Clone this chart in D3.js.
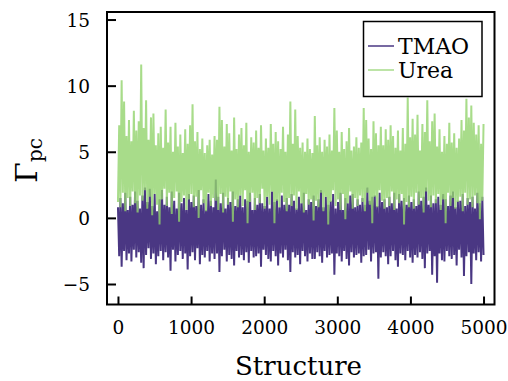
<!DOCTYPE html>
<html><head><meta charset="utf-8">
<script src="https://cdn.jsdelivr.net/npm/d3@7"></script>
<style>body{margin:0;background:#fff}svg{display:block}svg text{font-family:'DejaVu Serif',serif !important;fill:#000}</style>
</head><body><svg id="c" width="508" height="381"></svg>
<script>
const seriesNames = ["TMAO", "Urea"];
const xTicks = [0, 1000, 2000, 3000, 4000, 5000];
const yTicks = [-5, 0, 5, 10, 15];
const structureMax = 5000;
const tmao = [
0.8,-2.9,1.5,-3.7,1.1,-2.5,1.9,-3.2,0.6,-2.7,1.6,-3.3,1.0,-2.4,2.0,-3.0,1.3,-2.6,0.7,-3.4,
1.7,-3.8,2.3,-2.8,1.2,-2.3,2.2,-3.1,0.9,-2.7,1.8,-3.5,0.5,-2.9,1.4,-2.5,2.1,-3.2,1.0,-2.6,
1.6,-3.0,0.8,-4.0,2.0,-2.4,1.3,-3.3,0.7,-2.8,1.9,-2.5,1.1,-3.1,1.5,-2.7,0.6,-3.9,1.8,-2.9,
1.2,-2.6,1.7,-3.2,0.9,-2.3,2.1,-3.5,1.0,-2.8,1.4,-3.0,0.6,-2.5,1.8,-3.3,1.3,-2.7,0.8,-3.1,
2.9,-2.7,1.6,-4.1,1.1,-2.9,1.9,-2.4,0.7,-3.3,1.5,-2.8,1.2,-3.1,2.0,-3.6,0.9,-2.5,1.4,-3.0,
1.7,-2.8,0.8,-3.2,1.4,-2.6,1.3,-3.4,1.9,-2.5,0.6,-3.0,1.5,-2.9,1.0,-2.7,1.8,-3.7,1.1,-2.4,
0.9,-2.8,1.6,-3.1,0.7,-3.3,2.0,-2.5,1.2,-2.9,1.4,-3.6,0.8,-2.7,1.7,-3.0,1.0,-2.4,1.5,-3.2,
1.0,-4.1,1.8,-2.6,1.3,-3.0,0.7,-2.8,1.6,-3.5,1.1,-2.5,1.9,-2.9,0.6,-3.3,1.4,-2.7,1.2,-3.1,
1.7,-3.1,0.9,-2.6,1.4,-2.9,2.1,-3.4,0.8,-2.5,1.6,-3.0,1.0,-2.8,1.3,-2.7,1.8,-4.3,0.7,-2.7,
1.2,-2.9,1.9,-3.3,0.6,-2.5,1.5,-3.1,1.1,-3.6,1.7,-2.6,1.8,-3.0,0.8,-2.8,1.4,-2.7,1.0,-3.4,
1.5,-2.9,1.0,-2.8,2.3,-2.4,1.3,-3.3,1.6,-2.7,1.7,-2.6,0.9,-4.6,1.9,-3.0,1.2,-2.6,1.4,-2.9,
0.8,-3.5,1.6,-2.9,1.1,-2.5,1.9,-3.2,0.7,-3.7,1.8,-2.7,1.3,-2.8,1.5,-3.2,1.0,-2.5,1.7,-3.0,
1.2,-3.4,1.4,-2.8,0.9,-3.0,2.0,-2.6,1.3,-3.1,1.6,-3.8,2.3,-2.7,1.0,-2.5,1.7,-4.3,1.1,-2.9,
1.4,-4.9,1.6,-2.7,1.0,-3.2,1.8,-3.3,1.4,-2.5,0.9,-2.9,1.7,-3.1,2.0,-2.8,0.8,-3.6,1.3,-2.4,
1.3,-3.0,1.8,-4.4,0.9,-2.9,1.5,-2.6,1.2,-5.0,1.6,-2.7,0.7,-3.2,1.9,-2.6,1.1,-3.3,1.6,-2.8
];
const urea = [
1.2,7.0,0.8,10.4,1.9,8.8,0.5,6.2,1.5,7.4,0.9,5.8,2.0,8.1,1.1,6.6,0.4,7.3,1.7,11.6,
1.3,6.8,2.1,8.9,0.7,5.9,1.6,7.6,0.2,7.9,1.8,5.5,1.0,6.4,-0.5,6.9,1.4,5.3,2.2,8.2,
0.9,5.7,1.9,6.9,0.3,5.0,1.5,7.2,2.0,5.4,-0.3,6.3,1.2,4.9,1.7,6.7,0.6,5.6,1.4,7.0,
1.8,8.6,0.8,5.8,1.6,6.5,0.0,5.2,2.1,6.0,1.1,4.9,0.5,5.5,1.9,5.9,0.9,4.8,1.5,6.2,
1.3,5.9,0.6,8.4,1.8,7.4,0.4,5.4,1.6,7.1,1.0,6.4,2.0,5.1,-0.3,7.6,1.4,5.2,0.8,6.3,
1.7,6.8,0.9,5.5,2.1,7.2,-0.4,5.0,1.2,6.1,1.9,5.7,0.6,6.6,1.5,5.3,1.1,7.0,2.2,5.1,
0.7,6.0,1.6,5.3,1.0,7.1,2.0,5.6,-0.4,6.5,1.3,5.8,0.8,5.2,1.9,6.9,1.2,5.0,0.5,6.3,
1.5,8.8,0.9,5.6,1.7,8.2,0.6,6.2,2.0,5.3,1.1,5.7,0.4,5.0,1.8,6.0,1.0,5.2,1.4,4.9,
-0.2,7.7,1.3,5.5,0.8,6.1,1.9,5.0,0.5,5.9,1.6,5.4,-0.5,6.3,1.2,5.1,2.1,8.3,0.9,6.6,
1.4,5.0,0.6,6.5,1.8,5.2,-0.1,5.8,1.1,6.8,2.0,5.1,0.7,5.4,1.5,6.1,0.9,5.3,1.7,5.7,
1.2,8.3,0.5,7.4,1.9,6.0,1.0,5.2,-0.4,7.3,1.6,6.4,0.8,5.5,2.1,6.9,1.3,5.5,0.7,6.7,
1.5,5.9,0.9,7.0,2.0,6.2,0.6,5.3,1.4,6.6,1.1,5.1,1.8,6.8,-0.5,5.6,1.2,9.1,0.8,6.1,
1.6,7.5,0.7,6.3,1.9,7.8,1.0,5.1,1.5,7.1,0.4,6.5,2.0,8.9,1.3,5.8,0.8,7.3,1.7,7.9,
1.1,5.4,1.8,6.7,0.6,5.0,1.4,6.2,-0.4,5.6,1.9,7.2,0.9,5.7,1.5,6.4,0.7,5.3,1.2,6.0,
1.6,7.4,0.5,6.6,1.9,9.0,1.0,7.6,1.4,8.5,0.8,7.2,1.7,6.3,1.1,7.0,-0.1,5.6,1.3,7.1
];
const colors = ["#4a3783", "#92d36d"];

const svg = d3.select("#c");
const L = 107, R = 494.5, T = 12, B = 304.5;
const x = d3.scaleLinear().domain([-150, 5150]).range([L, R]);
const y = d3.scaleLinear().domain([-6.55, 15.57]).range([B, T]);

svg.append("defs").append("clipPath").attr("id","clip")
  .append("rect").attr("x",L).attr("y",T).attr("width",R-L).attr("height",B-T);

const line = d3.line().x(d=>x(d.i * structureMax / (d.n - 1))).y(d=>y(d.v));
const mk = arr => arr.map((v,i)=>({v, i, n: arr.length}));

const g = svg.append("g").attr("clip-path","url(#clip)");
g.append("path").datum(mk(tmao)).attr("d", line)
  .attr("fill","none").attr("stroke",colors[0]).attr("stroke-width",2);
g.append("path").datum(mk(urea)).attr("d", line)
  .attr("fill","none").attr("stroke",colors[1]).attr("stroke-opacity",0.8).attr("stroke-width",2);

// axes
const ax = svg.append("g").attr("transform",`translate(0,${B})`)
  .call(d3.axisBottom(x).tickValues(xTicks).tickSize(-8).tickPadding(16).tickFormat(d3.format("d")));
const ay = svg.append("g").attr("transform",`translate(${L},0)`)
  .call(d3.axisLeft(y).tickValues(yTicks).tickSize(-9).tickPadding(17));
[ax, ay].forEach(a=>{
  a.attr("font-family", null);
  a.select(".domain").remove();
  a.selectAll(".tick line").attr("stroke","#000").attr("stroke-width",2);
  a.selectAll(".tick text").attr("font-size",18.5).attr("fill","#000");
});
ay.selectAll(".tick text").attr("dy","0.36em");

svg.append("rect").attr("x",L).attr("y",T).attr("width",R-L).attr("height",B-T)
  .attr("fill","none").attr("stroke","#000").attr("stroke-width",2);

// axis labels
svg.append("text").attr("x",298.5).attr("y",375).attr("text-anchor","middle")
  .attr("font-size",26).attr("textLength",127).attr("lengthAdjust","spacingAndGlyphs").text("Structure");
const yl = svg.append("text").attr("transform","translate(37,160.5) rotate(-90)").attr("text-anchor","middle");
yl.append("tspan").attr("font-size",30).text("Γ");
yl.append("tspan").attr("font-size",20).attr("dy",5).text("pc");

// legend
const lg = svg.append("g");
lg.append("rect").attr("x",363.5).attr("y",21.5).attr("width",118.5).attr("height",75)
  .attr("fill","#fff").attr("stroke","#000").attr("stroke-width",1.5);
seriesNames.forEach((n,i)=>{
  const yy = 46 + i*24;
  lg.append("line").attr("x1",368).attr("x2",394).attr("y1",yy).attr("y2",yy)
    .attr("stroke",colors[i]).attr("stroke-opacity", i===1?0.8:1).attr("stroke-width",1.5);
  lg.append("text").attr("x",398).attr("y",yy+8).attr("font-size",22).text(n);
});
</script></body></html>
